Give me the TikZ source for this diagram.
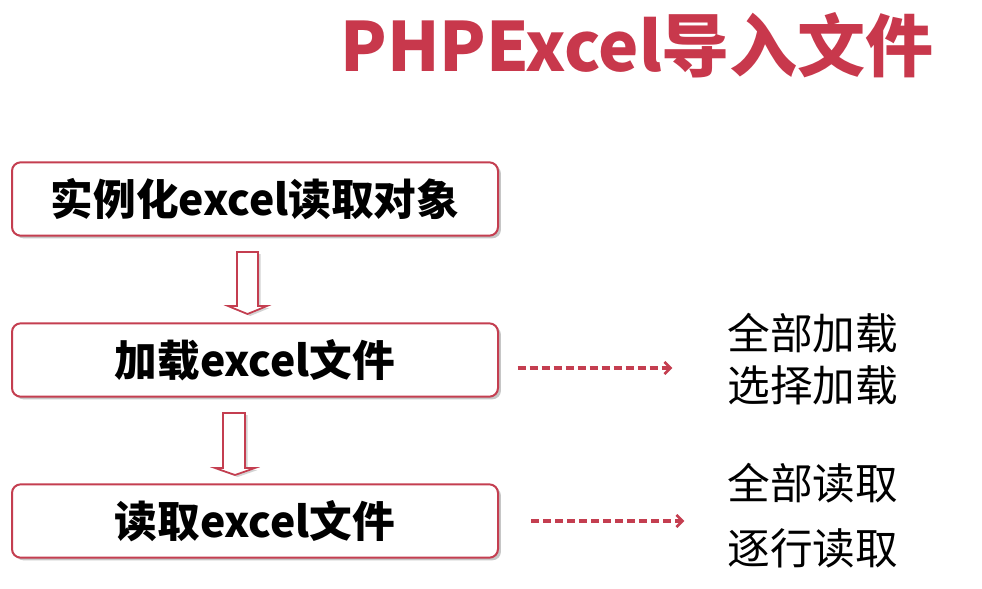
\documentclass[tikz,border=0pt]{standalone}
\usepackage{fontspec}
\setmainfont{Noto Sans CJK SC}
\usetikzlibrary{shadows,arrows.meta}

\definecolor{titlered}{RGB}{200,56,76}
\definecolor{boxred}{RGB}{196,62,80}

\tikzset{every picture/.style={line width=0.75pt}}
\tikzset{
  stepbox/.style={draw=boxred, line width=1.5pt, rounded corners=6.5pt, fill=white,
    minimum width=364.5pt, minimum height=55pt, inner sep=0pt,
    font=\bfseries\fontsize{32}{32}\selectfont,
    drop shadow={shadow xshift=2.2pt, shadow yshift=-2pt, opacity=0.45}},
  blockarrow/.style={draw=boxred, line width=1.3pt, fill=white, line join=miter,
    drop shadow={shadow xshift=2pt, shadow yshift=-1.5pt, opacity=0.35}},
  dasharrow/.style={draw=boxred, line width=2.8pt, dash pattern=on 6pt off 3pt,
    -{Straight Barb[length=4.5pt,width=9pt,line width=2pt]}},
  optext/.style={anchor=west, inner sep=0pt, font=\fontsize{32}{32}\selectfont},
}

\begin{document}
\begin{tikzpicture}[x=0.75pt,y=0.75pt,yscale=-1,xscale=1]
\useasboundingbox (0,0) rectangle (982,589);

% Title
\node (title) at (637,45) [text=titlered, inner sep=0pt, font=\bfseries\fontsize{51}{51}\selectfont] {PHPExcel导入文件};

% Step boxes
\node (reader) at (255,199) [stepbox] {实例化excel读取对象};
\node (load) at (255,360) [stepbox] {加载excel文件};
\node (read) at (255,521) [stepbox] {读取excel文件};

% Block arrows
\draw [blockarrow] (237,252) -- (258,252) -- (258,306) -- (267,306) -- (247.5,314) -- (228,306) -- (237,306) -- cycle;
\draw [blockarrow] (223,413) -- (245,413) -- (245,468) -- (255,468) -- (235,475) -- (215,468) -- (223,468) -- cycle;

% Options
\node (loadall) at (727,333) [optext] {全部加载};
\node (loadpart) at (727,385) [optext] {选择加载};
\node (readall) at (727,483) [optext] {全部读取};
\node (readrow) at (727,548) [optext] {逐行读取};

% Dashed arrows
\draw [dasharrow, shorten <=14pt, shorten >=41pt] ([yshift=6pt]load.east) -- ([yshift=6pt]load.east -| loadall.west);
\draw [dasharrow, shorten <=24pt, shorten >=32pt] (read.east) -- (read.east -| readall.west);

\end{tikzpicture}
\end{document}
